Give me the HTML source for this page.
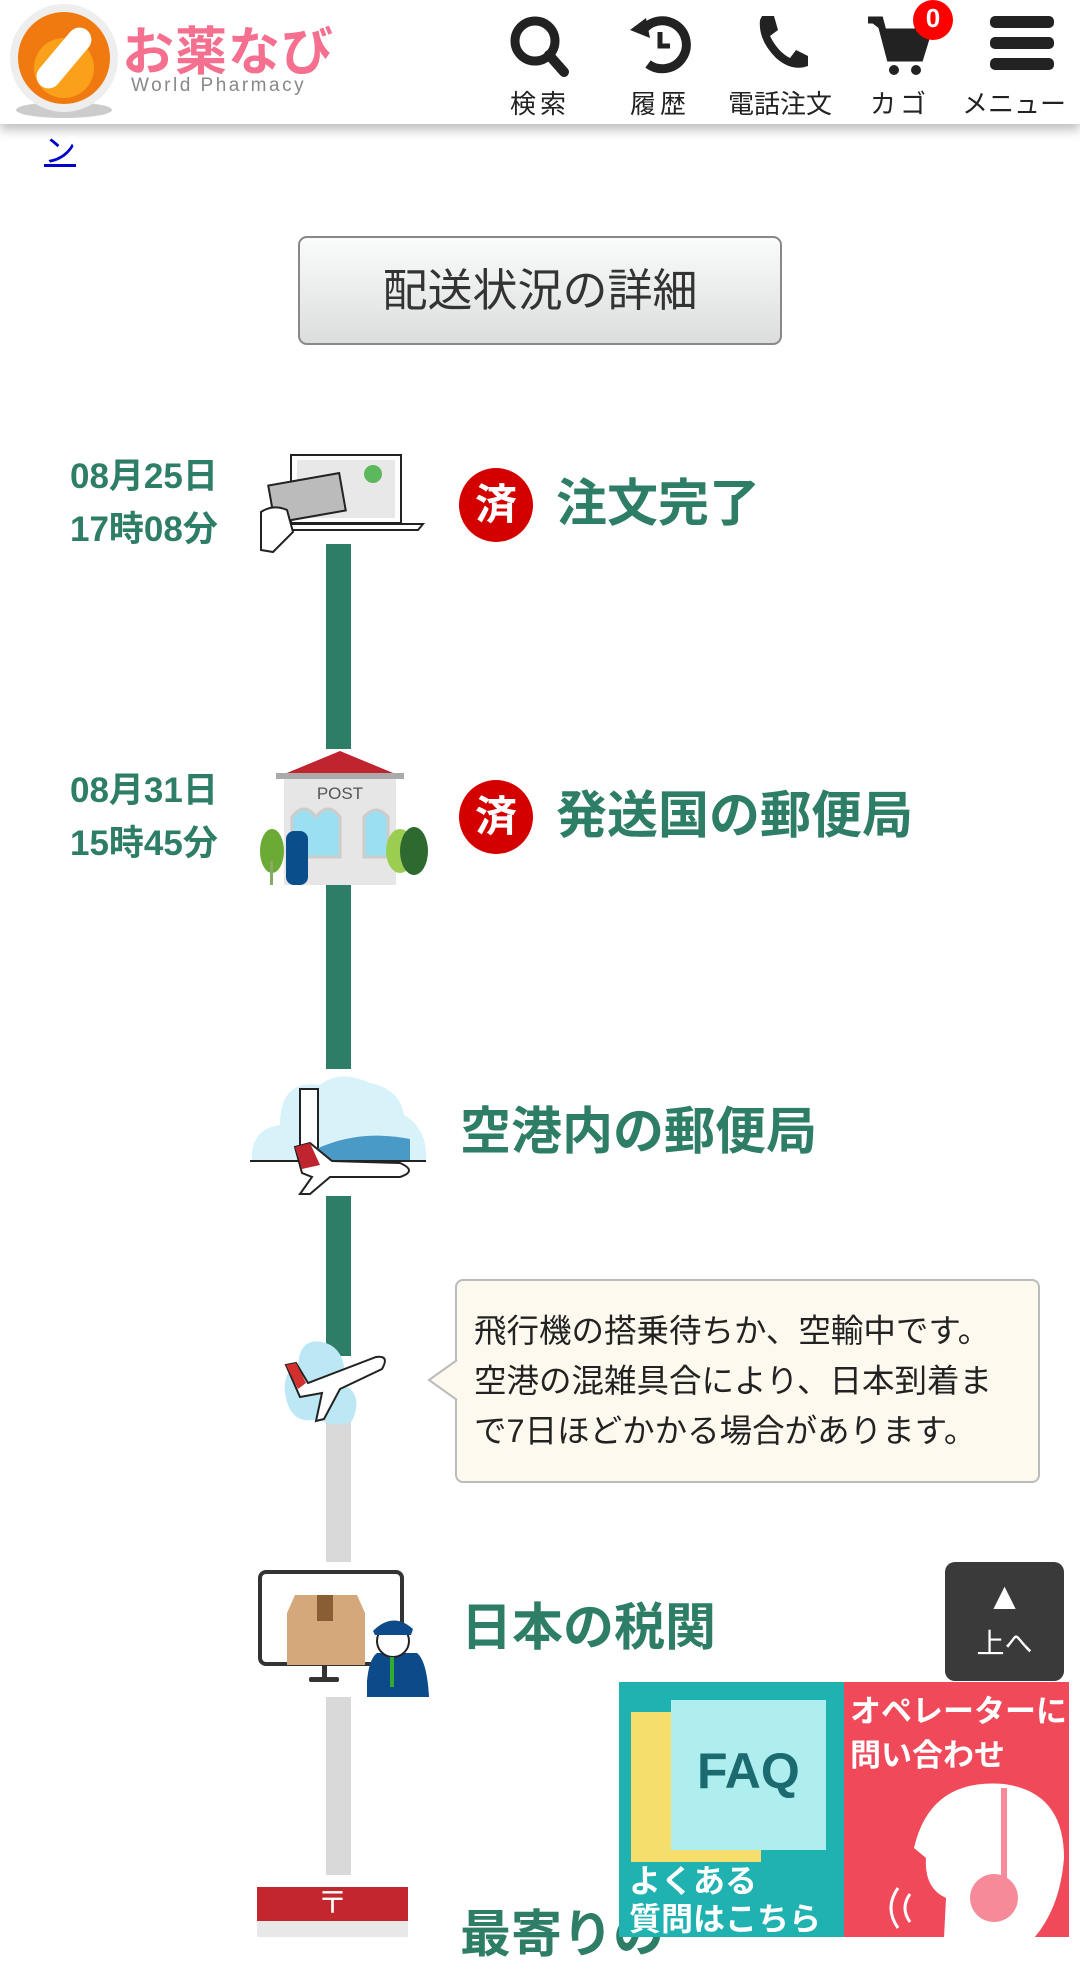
<!DOCTYPE html>
<html><head><meta charset="utf-8"><style>
*{margin:0;padding:0;box-sizing:border-box}
body{width:1080px;height:1937px;overflow:hidden;background:#fff;position:relative;font-family:"Liberation Sans","Noto Sans CJK JP",sans-serif}
.a{position:absolute}
.hdr{left:0;top:0;width:1080px;height:124px;background:#fff;box-shadow:0 6px 10px rgba(0,0,0,.25);z-index:5}
.lbl{font-size:26px;color:#222;top:84px;text-align:center;width:120px}
.date{left:70px;font-size:35px;font-weight:bold;color:#2e7d66;line-height:53px}
.ttl{font-size:51px;font-weight:bold;color:#2e7d66;line-height:60px}
.zumi{width:74px;height:74px;border-radius:50%;background:#d40000;color:#fff;font-size:42px;font-weight:bold;text-align:center;line-height:74px}
.bar{left:326px;width:25px}
</style></head><body>
<div class="a hdr">
 <svg class="a" style="left:6px;top:2px" width="116" height="118"><ellipse cx="58" cy="108" rx="48" ry="8" fill="#ccc"/><circle cx="58" cy="56" r="54" fill="#eee"/><circle cx="58" cy="56" r="46" fill="#f07a10"/><circle cx="58" cy="66" r="30" fill="#ffb020" opacity=".7"/><rect x="22" y="44" width="72" height="24" rx="12" fill="#fff" transform="rotate(-50 58 56)"/></svg>
 <div class="a" style="left:122px;top:10px;font-size:52px;font-weight:bold;color:#f5708f;letter-spacing:1px">お薬なび</div>
 <div class="a" style="left:131px;top:75px;font-size:19px;color:#888;letter-spacing:2.5px">World Pharmacy</div>
 <svg class="a" style="left:508px;top:14px" width="64" height="64"><circle cx="27" cy="27" r="20" stroke="#222" stroke-width="9" fill="none"/><line x1="41" y1="41" x2="56" y2="58" stroke="#222" stroke-width="10" stroke-linecap="round"/></svg>
 <svg class="a" style="left:628px;top:12px" width="64" height="64"><path d="M14 20 A24 24 0 1 1 20 52" stroke="#222" stroke-width="9" fill="none"/><path d="M2 18 L18 6 L22 26Z" fill="#222"/><path d="M32 20 V34 H42" stroke="#222" stroke-width="5" fill="none"/></svg>
 <svg class="a" style="left:752px;top:12px" width="60" height="60"><path d="M10 4 L22 4 L26 18 L18 24 Q26 40 38 46 L44 38 L56 44 L56 54 Q40 60 24 46 Q6 28 8 8Z" fill="#222"/></svg>
 <svg class="a" style="left:866px;top:14px" width="70" height="64"><path d="M2 6 H14 L24 44 H54 L62 18 H18" stroke="#222" stroke-width="7" fill="#222"/><circle cx="28" cy="56" r="5" fill="#222"/><circle cx="50" cy="56" r="5" fill="#222"/></svg>
 <div class="a" style="left:913px;top:0;width:40px;height:40px;border-radius:50%;background:#f00;color:#fff;font-size:26px;text-align:center;line-height:36px;font-weight:bold">0</div>
 <svg class="a" style="left:990px;top:16px" width="64" height="56"><rect x="0" y="0" width="64" height="12" rx="5" fill="#222"/><rect x="0" y="21" width="64" height="12" rx="5" fill="#222"/><rect x="0" y="42" width="64" height="12" rx="5" fill="#222"/></svg>
 <div class="a lbl" style="left:480px;letter-spacing:4px">検索</div>
 <div class="a lbl" style="left:600px;letter-spacing:4px">履歴</div>
 <div class="a lbl" style="left:720px">電話注文</div>
 <div class="a lbl" style="left:840px;letter-spacing:4px">カゴ</div>
 <div class="a lbl" style="left:962px;text-align:left">メニュー</div>
</div>
<div class="a" style="left:44px;top:126px;font-size:32px;color:#00c;text-decoration:underline">ン</div>
<div class="a" style="left:298px;top:236px;width:484px;height:109px;border:2px solid #888;border-radius:9px;background:linear-gradient(#fafcfc,#dcdddd);text-align:center;line-height:105px;font-size:45px;color:#333">配送状況の詳細</div>

<div class="a bar" style="top:544px;height:205px;background:#2e7d66"></div>
<div class="a bar" style="top:885px;height:184px;background:#2e7d66"></div>
<div class="a bar" style="top:1196px;height:160px;background:#2e7d66"></div>
<div class="a bar" style="top:1390px;height:172px;background:#d9d9d9"></div>
<div class="a bar" style="top:1697px;height:178px;background:#d9d9d9"></div>

<div class="a date" style="top:450px">08月25日<br>17時08分</div>
<svg class="a" style="left:253px;top:452px" width="172" height="112"><rect x="38" y="3" width="110" height="68" fill="#fff" stroke="#222" stroke-width="2"/><rect x="44" y="8" width="98" height="58" fill="#e8e8e8"/><path d="M26 72 H170 L165 78 H30Z" fill="#fff" stroke="#222" stroke-width="2"/><rect x="18" y="27" width="72" height="38" fill="#bbb" stroke="#222" stroke-width="2" transform="rotate(-10 54 46)"/><circle cx="120" cy="22" r="9" fill="#5cb85c"/><path d="M8 60 Q20 52 34 58 L40 80 L20 100 L8 98Z" fill="#fff" stroke="#222" stroke-width="2"/></svg>
<div class="a zumi" style="left:459px;top:468px">済</div>
<div class="a ttl" style="left:556px;top:474px">注文完了</div>

<div class="a date" style="top:764px">08月31日<br>15時45分</div>
<svg class="a" style="left:252px;top:751px" width="176" height="134"><path d="M30 24 L88 0 L146 24Z" fill="#c0242e"/><rect x="24" y="22" width="128" height="6" fill="#aaa"/><rect x="32" y="28" width="112" height="106" fill="#e6e6e6"/><text x="88" y="48" font-size="17" text-anchor="middle" fill="#555" font-family="Liberation Sans">POST</text><path d="M40 106 V66 Q52 50 64 66 Q76 50 88 66 V106Z" fill="#9be0f2" stroke="#ccc" stroke-width="3"/><path d="M112 106 V66 Q124 52 136 66 V106Z" fill="#9be0f2" stroke="#ccc" stroke-width="3"/><rect x="34" y="80" width="22" height="54" rx="8" fill="#0a4f8c"/><ellipse cx="20" cy="100" rx="12" ry="22" fill="#6aaa35"/><rect x="18" y="110" width="3" height="24" fill="#8a6"/><ellipse cx="148" cy="100" rx="14" ry="22" fill="#9acd50"/><ellipse cx="162" cy="100" rx="14" ry="24" fill="#2e6a30"/></svg>
<div class="a zumi" style="left:459px;top:780px">済</div>
<div class="a ttl" style="left:556px;top:786px">発送国の郵便局</div>

<svg class="a" style="left:250px;top:1069px" width="178" height="128"><path d="M2 92 Q0 60 30 56 Q30 10 70 16 Q90 0 120 14 Q150 20 154 46 Q178 60 176 92Z" fill="#d8f2fa"/><rect x="50" y="20" width="18" height="75" fill="#fff" stroke="#222" stroke-width="2"/><path d="M66 80 Q110 60 160 70 V92 H66Z" fill="#4a9ac8"/><line x1="0" y1="92" x2="176" y2="92" stroke="#222" stroke-width="2"/><path d="M45 78 L60 74 L82 92 L150 94 Q168 102 150 108 L80 108 L60 125 L50 125 L62 108 L52 104Z" fill="#fff" stroke="#222" stroke-width="2"/><path d="M45 78 L60 74 L70 96 L52 100Z" fill="#c0242e"/></svg>
<div class="a ttl" style="left:460px;top:1102px">空港内の郵便局</div>

<svg class="a" style="left:278px;top:1335px" width="118" height="94"><path d="M10 70 Q0 40 20 30 Q22 0 48 8 Q70 16 66 50 Q86 60 74 86 Q60 94 40 84 Q18 90 10 70Z" fill="#bce8f5"/><path d="M8 30 L18 28 L30 48 L98 22 Q112 20 104 34 L62 54 L46 84 L38 86 L44 58 L22 62Z" fill="#fff" stroke="#222" stroke-width="2"/><path d="M8 30 L18 28 L28 48 L20 54Z" fill="#d32f2f"/></svg>
<div class="a" style="left:455px;top:1279px;width:585px;height:204px;background:#fdf9ef;border:2px solid #bbb;border-radius:8px"></div>
<svg class="a" style="left:427px;top:1360px" width="32" height="42"><path d="M30 0 L2 20 L30 40" fill="#fdf9ef" stroke="#bbb" stroke-width="2"/><rect x="29" y="2" width="4" height="36" fill="#fdf9ef"/></svg>
<div class="a" style="left:474px;top:1306px;font-size:32.5px;line-height:50px;color:#222;white-space:nowrap">飛行機の搭乗待ちか、空輸中です。<br>空港の混雑具合により、日本到着ま<br>で7日ほどかかる場合があります。</div>

<svg class="a" style="left:257px;top:1569px" width="174" height="128"><rect x="3" y="3" width="142" height="92" rx="6" fill="#fff" stroke="#333" stroke-width="4"/><rect x="65" y="96" width="5" height="14" fill="#333"/><rect x="52" y="108" width="30" height="5" rx="2" fill="#333"/><path d="M38 26 L100 26 L108 44 V96 H30 V44Z" fill="#d4a87a"/><rect x="60" y="26" width="16" height="26" fill="#8a5e34"/><path d="M110 112 Q112 90 120 84 L160 84 Q170 92 172 128 H110Z" fill="#0d4a8a"/><circle cx="136" cy="72" r="16" fill="#fff" stroke="#222" stroke-width="2"/><path d="M116 62 Q136 42 156 60 L154 66 H118Z" fill="#0d4a8a"/><rect x="133" y="88" width="4" height="30" fill="#3a3"/></svg>
<div class="a ttl" style="left:461px;top:1598px">日本の税関</div>

<div class="a" style="left:257px;top:1887px;width:151px;height:50px;background:#e8e8e8"><div style="height:34px;background:#c4262e;color:#fff;font-size:30px;text-align:center;line-height:34px">〒</div></div>
<div class="a ttl" style="left:460px;top:1905px">最寄りの</div>

<div class="a" style="left:945px;top:1562px;width:119px;height:119px;background:#3a3a3a;border-radius:10px;color:#fff;text-align:center"><div style="font-size:38px;line-height:50px;margin-top:10px">▲</div><div style="font-size:28px">上へ</div></div>
<div class="a" style="left:619px;top:1682px;width:225px;height:255px;background:#20b2b0;overflow:hidden">
 <div class="a" style="left:12px;top:30px;width:130px;height:150px;background:#f6de6c"></div>
 <div class="a" style="left:52px;top:18px;width:155px;height:150px;background:#aeeeee"></div>
 <div class="a" style="left:78px;top:60px;font-size:50px;font-weight:bold;color:#1a6a70">FAQ</div>
 <div class="a" style="left:10px;top:180px;font-size:32px;font-weight:bold;color:#fff;line-height:38px">よくある<br>質問はこちら</div>
</div>
<div class="a" style="left:844px;top:1682px;width:225px;height:255px;background:#f04a5a;overflow:hidden">
 <div class="a" style="left:6px;top:8px;font-size:31px;font-weight:bold;color:#fff;line-height:44px;white-space:nowrap">オペレーターに<br>問い合わせ</div>
 <svg class="a" style="left:40px;top:96px" width="190" height="160"><path d="M60 160 L62 120 Q40 110 42 80 L30 70 Q46 0 120 6 Q180 14 180 80 Q176 130 150 160Z" fill="#fff"/><circle cx="110" cy="120" r="24" fill="#f78a98"/><path d="M120 10 V100" stroke="#f78a98" stroke-width="6"/><path d="M14 110 Q0 130 14 150 M26 116 Q16 130 26 144" stroke="#fff" stroke-width="3" fill="none"/></svg>
</div>
</body></html>
